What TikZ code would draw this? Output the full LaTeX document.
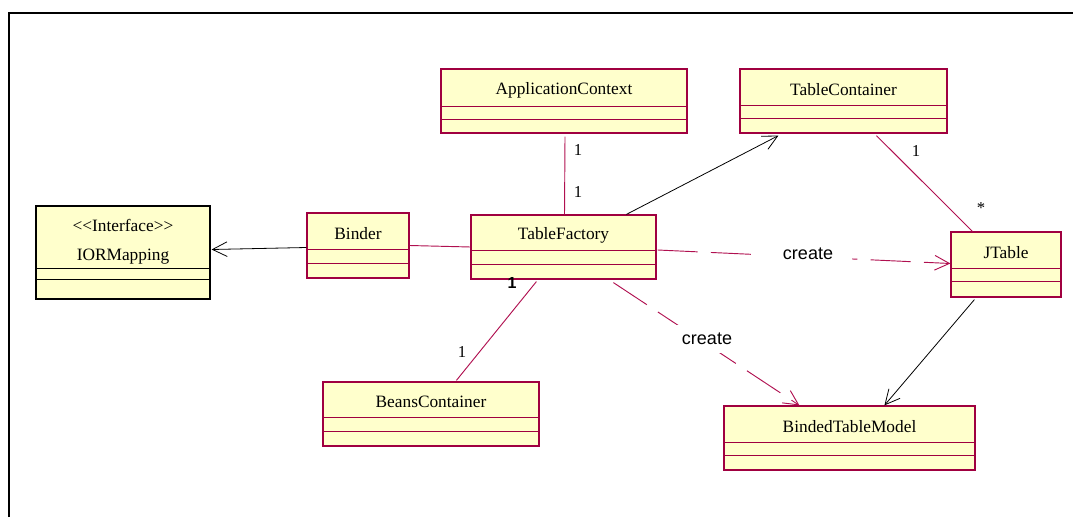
\documentclass[tikz,border=0pt]{standalone}
\usepackage{fontspec}
\setmainfont{Liberation Serif}
\newfontfamily\labelsans{Liberation Sans}
\usetikzlibrary{arrows.meta,calc}
\definecolor{clsfill}{HTML}{FFFFCC}
\definecolor{clsedge}{HTML}{A00040}
\definecolor{assoc}{HTML}{B01050}

\tikzset{
  classbox/.style={fill=clsfill, line width=0.9pt, inner sep=0pt},
  divider/.style={line width=0.7pt},
  classname/.style={font=\fontsize{13}{15}\selectfont, align=center, inner sep=0pt},
  mult/.style={font=\fontsize{12.5}{14}\selectfont, inner sep=0pt},
  stereolabel/.style={font=\labelsans\fontsize{13.5}{16}\selectfont, fill=white, inner xsep=6pt, inner ysep=2pt},
  assocline/.style={draw=assoc, line width=0.7pt},
  navline/.style={draw=black, line width=0.6pt, -{Straight Barb[length=11pt,width=11pt]}},
  depline/.style={draw=assoc, line width=0.7pt, dash pattern=on 30pt off 10pt,
                  -{Straight Barb[length=11pt,width=11pt]}},
}

% vertical offset of the class name inside its top compartment
\def\nameshift{2.5}

% #1 name, #2 x1, #3 y1, #4 x2, #5 y2, #6 first divider, #7 second divider, #8 label, #9 edge colour
\newcommand\umlclass[9]{%
  \node[classbox, draw=#9, minimum width={(#4-#2)*0.75pt}, minimum height={(#5-#3)*0.75pt}]
    (#1) at ({(#2+#4)/2},{(#3+#5)/2}) {};
  \draw[divider, draw=#9] (#2,#6) -- (#4,#6) (#2,#7) -- (#4,#7);
  \node[classname] (#1-name) at ({(#2+#4)/2},{(#3+#6)/2+\nameshift}) {#8};
}

\begin{document}
\begin{tikzpicture}[x=0.75pt, y=-0.75pt]
\useasboundingbox (0,0) rectangle (1073,517);

% frame
\draw[line width=1.5pt] (9,517) -- (9,13) -- (1073,13);

% classes
\def\nameshift{4.5}
\umlclass{ior}{36}{206}{210}{299}{268}{279}{<\kern0pt<Interface>\kern0pt>\\[6.5pt]IORMapping}{black}
\def\nameshift{2.5}
\umlclass{binder}{307}{213}{409}{278}{249}{263}{Binder}{clsedge}
\umlclass{tf}{471}{215}{656}{279}{250}{264}{TableFactory}{clsedge}
\umlclass{ac}{441}{69}{687}{133}{106}{119}{ApplicationContext}{clsedge}
\umlclass{tc}{740}{69}{947}{133}{105}{118}{TableContainer}{clsedge}
\umlclass{jt}{951}{232}{1061}{297}{268}{281}{JTable}{clsedge}
\umlclass{bc}{323}{382}{539}{446}{417}{431}{BeansContainer}{clsedge}
\umlclass{btm}{724}{406}{975}{470}{442}{455}{BindedTableModel}{clsedge}

% associations
\draw[navline] ($(binder.west)+(0,2)$) -- ($(ior.east)+(1,-3)$);
\draw[assocline] (binder.east) -- ($(tf.west)+(0,0)$);
\draw[assocline] ($(ac.south)+(1,3)$) -- ($(tf.north)+(1,0)$);
\draw[navline] ($(tf.north west)+(156,0)$) -- ($(tc.south west)+(39,2)$);
\draw[assocline] ($(tc.south west)+(137,2)$) -- ($(jt.north west)+(22,0)$);
\draw[assocline] ($(tf.south west)+(66,2)$) -- ($(bc.north west)+(134,-1)$);
\draw[navline] ($(jt.south west)+(24,2)$) -- ($(btm.north west)+(161,0)$);

% dependencies
\draw[depline] ($(tf.east)+(1,3)$) -- ($(jt.west)+(0,-1)$);
\draw[depline] ($(tf.south west)+(143,3)$) -- ($(btm.north west)+(76,0)$);

% labels
\node[stereolabel, inner xsep=14pt] (create1) at (808,254) {create};
\node[stereolabel, inner xsep=10pt, inner ysep=6pt] (create2) at (707,339) {create};
\node[mult] at (578,150) {1};
\node[mult] at (578,192) {1};
\node[mult] at (916,151) {1};
\node[mult] at (981,208) {*};
\node[mult, font=\labelsans\bfseries\fontsize{12}{14}\selectfont] at (512,283) {1};
\node[mult] at (462,352) {1};
\end{tikzpicture}
\end{document}
